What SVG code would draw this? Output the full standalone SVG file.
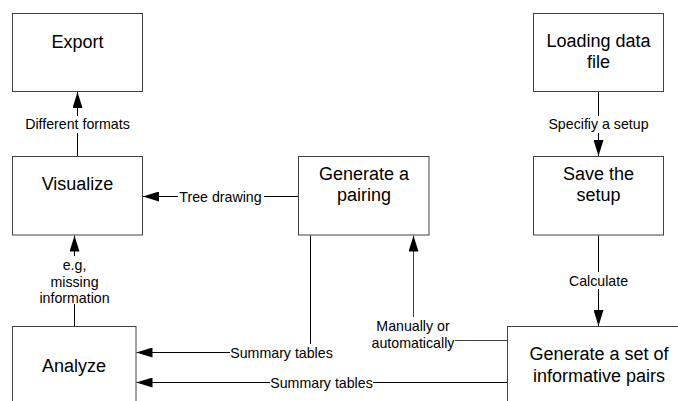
<svg xmlns="http://www.w3.org/2000/svg" width="678" height="401" viewBox="0 0 678 401">
<style>
.box{fill:#fff;stroke:#404040;stroke-width:1}
.t{font-family:"Liberation Sans",Arial,sans-serif;font-size:18px;fill:#000;text-anchor:middle}
.l{font-family:"Liberation Sans",Arial,sans-serif;font-size:14.2px;fill:#000;text-anchor:middle}
.c{fill:none;stroke:#000;stroke-width:1}
.g{stroke:#404040}
.bg{fill:#fff}
</style>
<defs>
<marker id="ah" markerWidth="16" markerHeight="10" refX="16" refY="5" orient="auto" markerUnits="userSpaceOnUse">
<path d="M0,0 L16,5 L0,10 Z" fill="#000"/>
</marker>
</defs>
<rect width="678" height="401" fill="#fff"/>
<g id="connectors">
<path class="c" d="M77.5,156.5 V92" marker-end="url(#ah)"/>
<rect class="bg" x="24" y="116" width="107" height="17"/>
<text class="l" x="77.5" y="129">Different formats</text>

<path class="c" d="M298.5,196.5 H143" marker-end="url(#ah)"/>
<rect class="bg" x="178" y="188" width="86" height="17"/>
<text class="l" x="220.5" y="201.5">Tree drawing</text>

<path class="c" d="M74.5,326.5 V235.5" marker-end="url(#ah)"/>
<rect class="bg" x="33" y="256" width="83" height="48"/>
<text class="l" x="74.5" y="270">e.g,</text>
<text class="l" x="74.5" y="286.5">missing</text>
<text class="l" x="74.5" y="303">information</text>

<path class="c" d="M598.5,91.5 V156" marker-end="url(#ah)"/>
<rect class="bg" x="546" y="116" width="106" height="17"/>
<text class="l" x="598.5" y="129">Specifiy a setup</text>

<path class="c" d="M598.5,235.5 V326" marker-end="url(#ah)"/>
<rect class="bg" x="566" y="272" width="65" height="17"/>
<text class="l" x="598.5" y="285.5">Calculate</text>

<path class="c g" d="M507.5,340.5 H413.5 V235.5" marker-end="url(#ah)"/>
<rect class="bg" x="369" y="317" width="86" height="33"/>
<text class="l" x="413" y="331">Manually or</text>
<text class="l" x="413" y="347.5">automatically</text>

<path class="c" d="M310.5,235.5 V352.5 H136.5" marker-end="url(#ah)"/>
<rect class="bg" x="230" y="344" width="103" height="17"/>
<text class="l" x="281.5" y="357.5">Summary tables</text>

<path class="c" d="M507.5,382.5 H136.5" marker-end="url(#ah)"/>
<rect class="bg" x="270" y="374" width="103" height="17"/>
<text class="l" x="321.5" y="387.5">Summary tables</text>
</g>
<g id="export">
<rect class="box" x="12.5" y="13.5" width="130" height="78"/>
<text class="t" x="77.5" y="48">Export</text>
</g>
<g id="visualize">
<rect class="box" x="12.5" y="156.5" width="130" height="78.5"/>
<text class="t" x="77.5" y="190">Visualize</text>
</g>
<g id="pairing">
<rect class="box" x="298.5" y="156.5" width="130.5" height="78.5"/>
<text class="t" x="364" y="180">Generate a</text>
<text class="t" x="364" y="201">pairing</text>
</g>
<g id="loading">
<rect class="box" x="533.5" y="13.5" width="130" height="78"/>
<text class="t" x="598.5" y="47">Loading data</text>
<text class="t" x="598.5" y="68">file</text>
</g>
<g id="save">
<rect class="box" x="533.5" y="156.5" width="130" height="78.5"/>
<text class="t" x="598.5" y="180">Save the</text>
<text class="t" x="598.5" y="201">setup</text>
</g>
<g id="analyze">
<rect class="box" x="12.5" y="326.5" width="123.5" height="90"/>
<text class="t" x="74" y="371.5">Analyze</text>
</g>
<g id="informative">
<rect class="box" x="507.5" y="326.5" width="190" height="90"/>
<text class="t" x="599" y="360">Generate a set of</text>
<text class="t" x="599" y="381.5">informative pairs</text>
</g>
</svg>
